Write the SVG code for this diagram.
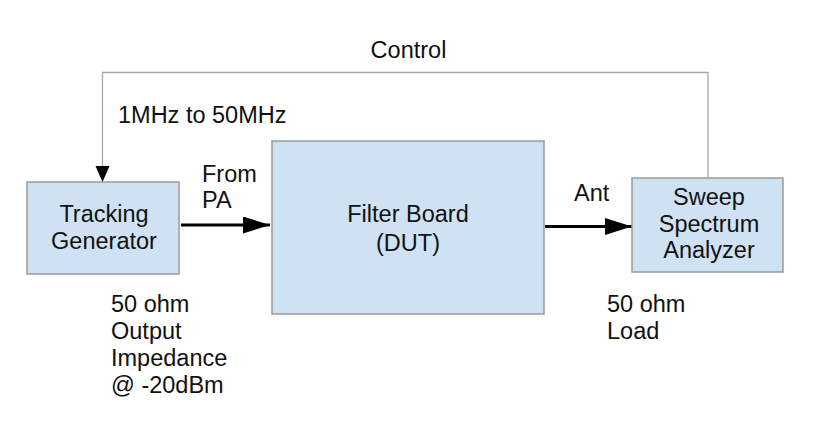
<svg xmlns="http://www.w3.org/2000/svg" width="817" height="448" viewBox="0 0 817 448">
<defs>
<style>
.box{fill:#cfe2f3;stroke:#9a9a9a;stroke-width:1.5}
text{font-family:"Liberation Sans",Arial,sans-serif;font-size:23.5px;fill:#111}
.c{text-anchor:middle}
.thin{fill:none;stroke:#a8a8a8;stroke-width:1.3}
.thick{fill:none;stroke:#000;stroke-width:3}
</style>
<marker id="big" viewBox="0 0 27 17" refX="27" refY="8.5" markerWidth="27" markerHeight="17" orient="auto" markerUnits="userSpaceOnUse"><path d="M0,0 L27,8.5 L0,17 z" fill="#000"/></marker>
</defs>
<rect width="817" height="448" fill="#fff"/>
<g id="connectors">
<path class="thin" d="M708,178 V72.5 H102.5 V168"/>
<path d="M95.5,166 L102.5,182 L109.5,166 z" fill="#000"/>
<line class="thick" x1="181" y1="225" x2="270" y2="225" marker-end="url(#big)"/>
<line class="thick" x1="545" y1="226.5" x2="632" y2="226.5" marker-end="url(#big)"/>
</g>
<g id="tracking-generator">
<rect class="box" x="27" y="182" width="152" height="92"/>
<text class="c" x="104" y="221.5">Tracking</text>
<text class="c" x="104" y="249">Generator</text>
</g>
<g id="filter-board">
<rect class="box" x="272" y="141" width="272" height="173"/>
<text class="c" x="408" y="221.7">Filter Board</text>
<text class="c" x="408" y="250.5">(DUT)</text>
</g>
<g id="spectrum-analyzer">
<rect class="box" x="632" y="178" width="151" height="94"/>
<text class="c" x="709" y="205">Sweep</text>
<text class="c" x="709" y="231.5">Spectrum</text>
<text class="c" x="709" y="258">Analyzer</text>
</g>
<g id="labels">
<text class="c" x="408.5" y="58.3">Control</text>
<text x="118" y="122.7">1MHz to 50MHz</text>
<text x="202" y="181.7">From</text>
<text x="202" y="208">PA</text>
<text x="574" y="200.7">Ant</text>
<text x="111" y="311.5">50 ohm</text>
<text x="111" y="338.5">Output</text>
<text x="111" y="365.5">Impedance</text>
<text x="111" y="392.5">@ -20dBm</text>
<text x="607" y="311.5">50 ohm</text>
<text x="607" y="339">Load</text>
</g>
</svg>
